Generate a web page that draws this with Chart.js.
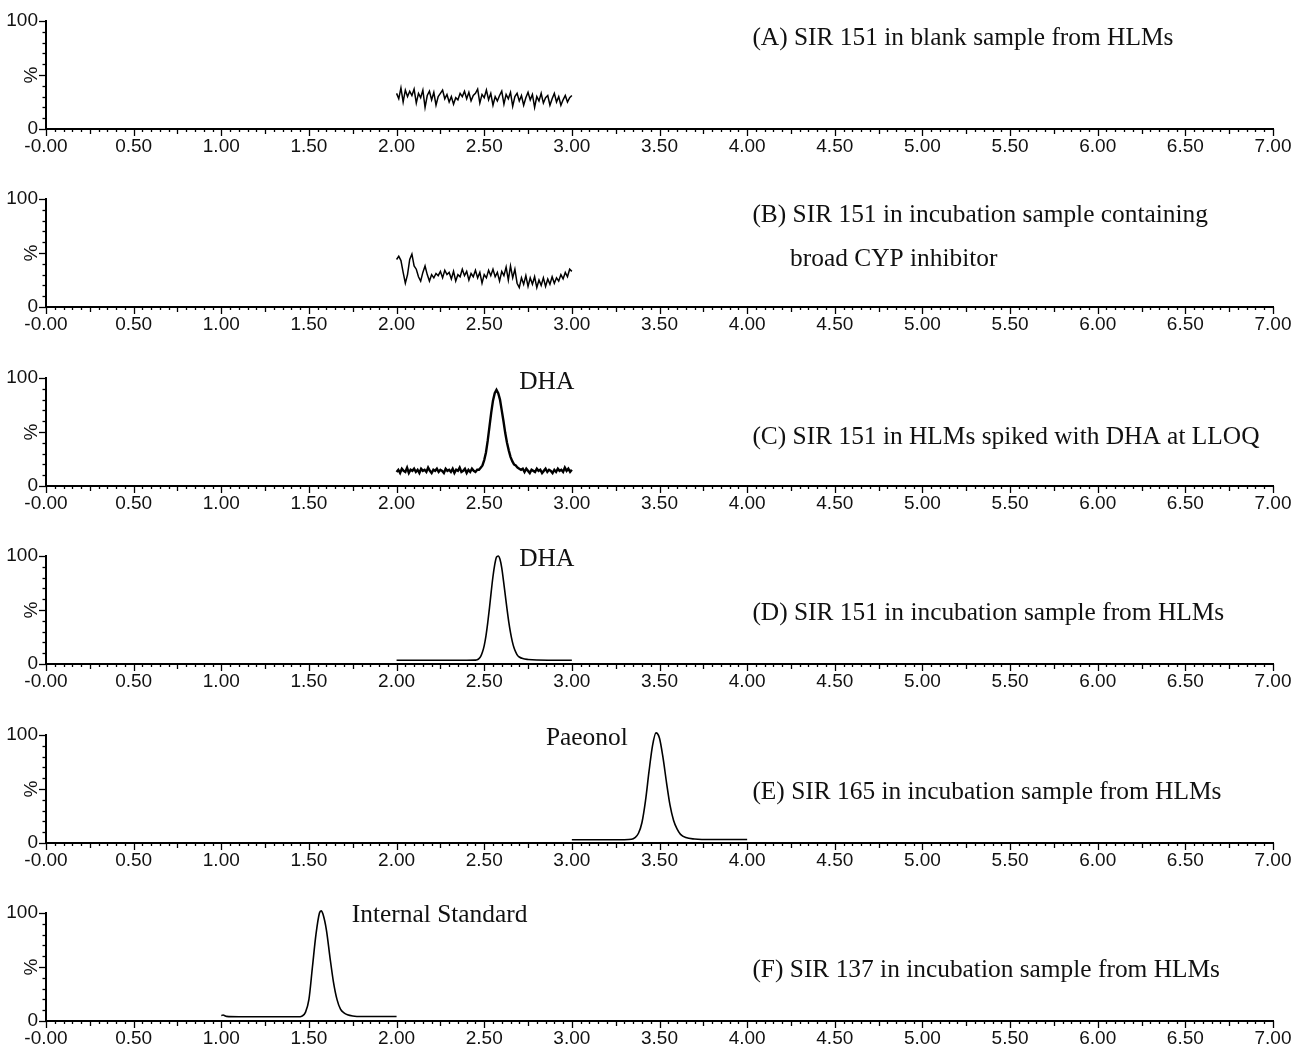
<!DOCTYPE html>
<html>
<head>
<meta charset="utf-8">
<script src="https://cdn.jsdelivr.net/npm/chart.js@4.4.1/dist/chart.umd.min.js"></script>
<style>
  html, body { margin: 0; padding: 0; background: #fff; }
  #wrap { position: relative; width: 1293px; height: 1048px; overflow: hidden; }
  #wrap canvas { position: absolute; left: 0; }
</style>
</head>
<body>
<div id="wrap"></div>
<script>
// Etiquetas de los ejes
const xTickValues = [0, 0.5, 1, 1.5, 2, 2.5, 3, 3.5, 4, 4.5, 5, 5.5, 6, 6.5, 7];
const xTickLabels = ['-0.00', '0.50', '1.00', '1.50', '2.00', '2.50', '3.00', '3.50',
                     '4.00', '4.50', '5.00', '5.50', '6.00', '6.50', '7.00'];
const yTickValues = [0, 100];
const yTickLabels = ['0', '100'];

// (A) ruido de fondo, 2.00 - 3.00 min
const aStart = 2.00, aEnd = 3.00;
const aValues = [33,28,38,25,36,30,35,31,37,24,33,29,36,20,31,35,27,34,22,30,
                 33,36,28,32,25,30,23,29,27,33,30,35,28,34,26,31,33,37,24,32,
                 29,36,27,33,22,30,26,31,35,23,32,28,34,21,30,33,26,31,22,29,
                 34,27,32,20,30,26,33,24,29,31,22,28,33,25,30,22,27,31,25,29,31];

// (B) ruido con inhibidor, 2.00 - 3.00 min
const bStart = 2.00, bEnd = 3.00;
const bValues = [44,47,43,32,22,30,44,49,38,35,28,24,32,38,30,24,30,27,31,29,
                 33,27,34,30,32,26,33,24,30,28,35,29,33,25,31,28,34,27,32,22,
                 30,27,34,29,35,28,32,24,33,29,37,25,38,27,35,22,18,27,21,29,
                 19,27,21,28,18,25,20,27,19,26,21,28,22,27,24,30,26,32,28,35,33];

// (C) DHA en LLOQ, 2.00 - 3.00 min
const cStart = 2.00, cEnd = 3.00;
const cValues = [13,15,12,16,14,13,17,12,15,14,16,13,15,12,16,14,15,13,17,14,
                 12,15,14,16,13,15,14,12,16,14,15,13,16,12,15,14,17,13,14,16,
                 12,15,13,16,14,13,15,
                 15,17,19,24,31,42,55,68,79,86,89,86,80,70,60,49,40,33,27,23,20,19,17,16,
                 15,16,13,16,14,12,15,14,13,16,14,15,12,14,16,13,15,14,12,15,
                 13,16,14,15,13,17,14,16,13,15];

// (D) DHA en incubación
const dTimes  = [2.00, 2.40, 2.45, 2.46, 2.47, 2.48, 2.49, 2.50, 2.51, 2.52, 2.53, 2.54, 2.55,
                 2.56, 2.57, 2.58, 2.59, 2.60, 2.61, 2.62, 2.63, 2.64, 2.65, 2.66, 2.67, 2.68,
                 2.69, 2.70, 2.72, 2.75, 2.80, 3.00];
const dValues = [3.5, 3.5, 3.6, 4, 5, 7, 11, 17, 26, 38, 52, 67, 81,
                 92, 99, 100, 97, 89, 77, 64, 51, 39, 29, 21, 15, 11,
                 8, 6.5, 5, 4.2, 3.7, 3.5];

// (E) Paeonol
const eTimes  = [3.00, 3.30, 3.34, 3.36, 3.38, 3.40, 3.42, 3.44, 3.46, 3.48, 3.50, 3.52,
                 3.54, 3.56, 3.58, 3.60, 3.62, 3.65, 3.70, 3.80, 4.00];
const eValues = [3, 3, 3.4, 5, 9, 19, 39, 66, 90, 102, 97, 79,
                 56, 35, 21, 13, 8, 5, 3.7, 3.2, 3.2];

// (F) Estándar interno
const fTimes  = [1.00, 1.01, 1.03, 1.10, 1.45, 1.46, 1.48, 1.50, 1.52, 1.54, 1.56, 1.57,
                 1.58, 1.60, 1.62, 1.64, 1.66, 1.68, 1.70, 1.72, 1.75, 1.80, 2.00];
const fValues = [5, 5.5, 4.3, 4, 4, 4.5, 8, 20, 50, 80, 100, 102,
                 99, 84, 59, 36, 20, 11, 7.5, 5.8, 4.7, 4.2, 4.2];

// Textos de cada panel
const panelNotes = [
  [{ text: '(A) SIR 151 in blank sample from HLMs', x: 4.03, y: 84 }],
  [{ text: '(B) SIR 151 in incubation sample containing', x: 4.03, y: 85 },
   { text: 'broad CYP inhibitor', x: 4.245, y: 44.5 }],
  [{ text: 'DHA', x: 2.70, y: 96 },
   { text: '(C) SIR 151 in HLMs spiked with DHA at LLOQ', x: 4.03, y: 45.5 }],
  [{ text: 'DHA', x: 2.70, y: 97 },
   { text: '(D) SIR 151 in incubation sample from HLMs', x: 4.03, y: 46.5 }],
  [{ text: 'Paeonol', x: 2.852, y: 97 },
   { text: '(E) SIR 165 in incubation sample from HLMs', x: 4.03, y: 46.5 }],
  [{ text: 'Internal Standard', x: 1.745, y: 98 },
   { text: '(F) SIR 137 in incubation sample from HLMs', x: 4.03, y: 46.5 }]
];

// Convierte una serie uniforme en puntos
function evenSeries(start, end, values) {
  const step = (end - start) / (values.length - 1);
  return values.map((v, i) => ({ x: start + i * step, y: v }));
}
function pairSeries(times, values) {
  return times.map((t, i) => ({ x: t, y: values[i] }));
}

const panels = [
  { data: evenSeries(aStart, aEnd, aValues), width: 1.5, tension: 0 },
  { data: evenSeries(bStart, bEnd, bValues), width: 1.5, tension: 0 },
  { data: evenSeries(cStart, cEnd, cValues), width: 2.4, tension: 0 },
  { data: pairSeries(dTimes, dValues), width: 1.6, tension: 0.4 },
  { data: pairSeries(eTimes, eValues), width: 1.6, tension: 0.4 },
  { data: pairSeries(fTimes, fValues), width: 1.6, tension: 0.4 }
];

const panelTops = [21, 199, 378, 556, 735, 913];
const padTop = 21;
const canvasH = 170;
const sansFont = '"Liberation Sans", Arial, sans-serif';
const serifFont = '"Liberation Serif", "Times New Roman", serif';

// Marcas menores de los ejes y texto
const decorPlugin = {
  id: 'decor',
  afterDraw(chart) {
    const { ctx, scales: { x, y } } = chart;
    ctx.save();
    ctx.strokeStyle = '#000';
    ctx.lineWidth = 1.3;
    for (let k = 0; k <= 140; k++) {
      const len = k % 10 === 0 ? 7 : (k % 5 === 0 ? 5 : 3);
      const px = Math.round(x.getPixelForValue(k * 0.05)) + 0.5;
      ctx.beginPath();
      ctx.moveTo(px, y.bottom);
      ctx.lineTo(px, y.bottom + len);
      ctx.stroke();
    }
    for (let k = 0; k <= 10; k++) {
      const len = k % 5 === 0 ? 7 : 3.5;
      const py = Math.round(y.getPixelForValue(k * 10)) + 0.5;
      ctx.beginPath();
      ctx.moveTo(x.left, py);
      ctx.lineTo(x.left - len, py);
      ctx.stroke();
    }
    // etiqueta "%"
    ctx.fillStyle = '#111';
    ctx.font = '19px ' + sansFont;
    ctx.textAlign = 'center';
    ctx.textBaseline = 'middle';
    ctx.translate(x.left - 14, y.getPixelForValue(50));
    ctx.rotate(-Math.PI / 2);
    ctx.fillText('%', 0, 0);
    ctx.restore();

    ctx.save();
    ctx.fillStyle = '#111';
    ctx.font = '25.4px ' + serifFont;
    ctx.textAlign = 'left';
    ctx.textBaseline = 'middle';
    chart.options.plugins.decor.notes.forEach(n => {
      ctx.fillText(n.text, x.getPixelForValue(n.x), y.getPixelForValue(n.y));
    });
    ctx.restore();
  }
};

const wrap = document.getElementById('wrap');

panels.forEach((p, i) => {
  const canvas = document.createElement('canvas');
  canvas.width = 1293;
  canvas.height = canvasH;
  canvas.style.top = (panelTops[i] - padTop) + 'px';
  wrap.appendChild(canvas);

  new Chart(canvas.getContext('2d'), {
    type: 'line',
    data: {
      datasets: [{
        data: p.data,
        borderColor: '#000',
        borderWidth: p.width,
        pointRadius: 0,
        tension: p.tension,
        cubicInterpolationMode: p.tension ? 'monotone' : 'default',
        clip: false
      }]
    },
    options: {
      responsive: false,
      animation: false,
      layout: { padding: { top: padTop, right: 20, left: 0, bottom: 0 } },
      plugins: {
        legend: { display: false },
        tooltip: { enabled: false },
        decor: { notes: panelNotes[i] }
      },
      scales: {
        x: {
          type: 'linear',
          min: 0,
          max: 7,
          afterFit: s => {
            s.height = canvasH - padTop - 108;
            s.paddingLeft = 0;
            s.paddingRight = 0;
          },
          afterBuildTicks: s => { s.ticks = xTickValues.map(v => ({ value: v })); },
          ticks: {
            autoSkip: false,
            maxRotation: 0,
            padding: 6,
            color: '#111',
            font: { family: sansFont, size: 19 },
            callback: v => xTickLabels[xTickValues.indexOf(v)]
          },
          grid: { display: false, drawTicks: false },
          border: { display: true, color: '#000', width: 2 }
        },
        y: {
          min: 0,
          max: 100,
          afterFit: s => { s.width = 46; },
          afterBuildTicks: s => { s.ticks = yTickValues.map(v => ({ value: v })); },
          ticks: {
            padding: 8,
            color: '#111',
            font: { family: sansFont, size: 19 },
            callback: v => yTickLabels[yTickValues.indexOf(v)]
          },
          grid: { display: false, drawTicks: false },
          border: { display: true, color: '#000', width: 2 }
        }
      }
    },
    plugins: [decorPlugin]
  });
});
</script>
</body>
</html>
